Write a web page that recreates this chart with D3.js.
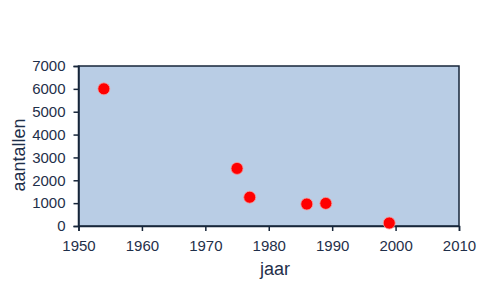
<!DOCTYPE html>
<html>
<head>
<meta charset="utf-8">
<script src="https://cdn.jsdelivr.net/npm/d3@7"></script>
<style>
  body { margin: 0; background: #fff; }
  text { font-family: "Liberation Sans", Arial, sans-serif; fill: #1f2f4a; }
</style>
</head>
<body>
<svg id="chart" width="490" height="296"></svg>
<script>
const years = [1954, 1975, 1977, 1986, 1989, 1999]
const counts = [6000, 2520, 1260, 960, 990, 130]
const xTicks = [1950, 1960, 1970, 1980, 1990, 2000, 2010]
const yTicks = [0, 1000, 2000, 3000, 4000, 5000, 6000, 7000]

const margin = { top: 66, right: 31, bottom: 70, left: 78.5 }
const width = 490 - margin.left - margin.right
const height = 296 - margin.top - margin.bottom

const svg = d3.select("#chart")
const g = svg.append("g")
  .attr("transform", `translate(${margin.left},${margin.top})`)

const x = d3.scaleLinear().domain([1950, 2010]).range([0, width])
const y = d3.scaleLinear().domain([0, 7000]).range([height, 0])

g.append("rect")
  .attr("width", width)
  .attr("height", height)
  .attr("fill", "#b9cde5")
  .attr("stroke", "#17263a")
  .attr("stroke-width", 1.5)

const xAxis = g.append("g")
  .attr("transform", `translate(0,${height})`)
  .call(d3.axisBottom(x).tickValues(xTicks).tickFormat(d3.format("d")).tickSizeOuter(0).tickSize(5).tickPadding(9))
const yAxis = g.append("g")
  .call(d3.axisLeft(y).tickValues(yTicks).tickFormat(d3.format("d")).tickSizeOuter(0).tickSize(5).tickPadding(8))

for (const ax of [xAxis, yAxis]) {
  ax.select(".domain").attr("stroke", "#17263a").attr("stroke-width", 1.5)
  ax.selectAll(".tick line").attr("stroke", "#17263a").attr("stroke-width", 1.5)
  ax.selectAll(".tick text").style("font-size", "15px").attr("fill", "#1f2f4a")
}

g.selectAll("circle.pt")
  .data(years.map((d, i) => ({ year: d, value: counts[i] })))
  .enter()
  .append("circle")
  .attr("class", "pt")
  .attr("cx", (d) => x(d.year))
  .attr("cy", (d) => y(d.value))
  .attr("r", 6)
  .attr("fill", "#ff0000")
  .attr("stroke", "#f4a0a0")
  .attr("stroke-width", 0.8)

svg.append("text")
  .attr("x", 275)
  .attr("y", 275)
  .attr("text-anchor", "middle")
  .style("font-size", "18px")
  .text("jaar")

svg.append("text")
  .attr("transform", "translate(25,155) rotate(-90)")
  .attr("text-anchor", "middle")
  .style("font-size", "18px")
  .text("aantallen")
</script>
</body>
</html>
